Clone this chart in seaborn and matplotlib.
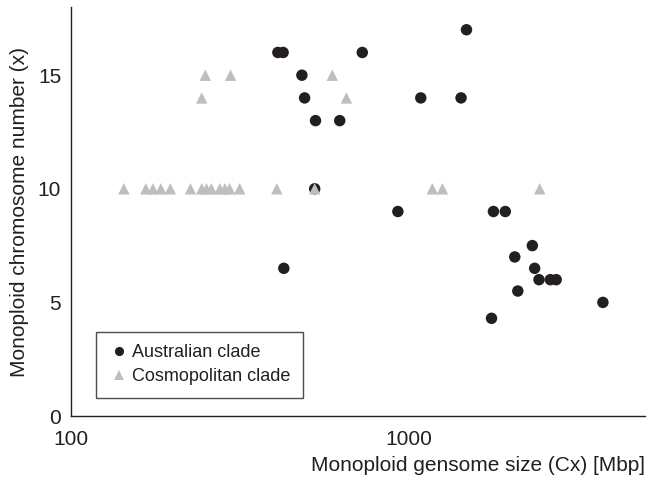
import matplotlib
matplotlib.use("Agg")
import matplotlib.pyplot as plt
import seaborn as sns
import pandas as pd
from matplotlib.ticker import FixedLocator, FixedFormatter, NullLocator

# Australian clade
aus_size = [410, 425, 729, 1483, 483, 492, 1086, 1429, 530, 625, 527,
            929, 1782, 1932, 427, 2323, 2061, 2360, 2431, 2626, 2733,
            2104, 3758, 1759]
aus_chrom = [16, 16, 16, 17, 15, 14, 14, 14, 13, 13, 10,
             9, 9, 9, 6.5, 7.5, 7, 6.5, 6, 6, 6,
             5.5, 5, 4.3]

# Cosmopolitan clade
cos_size = [143.5, 166.7, 175, 184.6, 197, 226, 244, 252, 260.6, 276,
            285.8, 295, 316, 407, 527, 1175, 1259, 2443,
            250, 297, 594, 244, 654]
cos_chrom = [10, 10, 10, 10, 10, 10, 10, 10, 10, 10,
             10, 10, 10, 10, 10, 10, 10, 10,
             15, 15, 15, 14, 14]

clades = ["Australian clade", "Cosmopolitan clade"]
x_ticks = [100, 1000]
x_ticklabels = ["100", "1000"]
y_ticks = [0, 5, 10, 15]

df = pd.DataFrame({
    "size": aus_size + cos_size,
    "chrom": aus_chrom + cos_chrom,
    "clade": [clades[0]] * len(aus_size) + [clades[1]] * len(cos_size),
})

sns.set_style("white")
plt.rcParams["font.family"] = ["Liberation Sans", "DejaVu Sans"]

fig = plt.figure(figsize=(6.5, 4.78), dpi=100)
ax = fig.add_axes([0.109, 0.1297, 0.883, 0.8556])

sns.scatterplot(data=df, x="size", y="chrom", hue="clade", style="clade",
                hue_order=clades, style_order=clades,
                palette={clades[0]: "#231f20", clades[1]: "#bcbec0"},
                markers={clades[0]: "o", clades[1]: "^"},
                s=68, linewidth=0, ax=ax, zorder=3)

ax.set_xscale("log")
ax.set_xlim(100, 5000)
ax.set_ylim(0, 18)
ax.xaxis.set_major_locator(FixedLocator(x_ticks))
ax.xaxis.set_major_formatter(FixedFormatter(x_ticklabels))
ax.xaxis.set_minor_locator(NullLocator())
ax.set_yticks(y_ticks)

for s in ["top", "right"]:
    ax.spines[s].set_visible(False)
for s in ["left", "bottom"]:
    ax.spines[s].set_color("#231f20")
    ax.spines[s].set_linewidth(1.0)

ax.tick_params(axis="both", direction="in", length=4, width=0.8,
               color="#231f20", labelsize=15, labelcolor="#231f20")
ax.tick_params(axis="x", pad=10)
ax.tick_params(axis="y", pad=7)

ax.set_xlabel("Monoploid gensome size (Cx) [Mbp]", fontsize=15,
              color="#231f20", loc="right", labelpad=5)
ax.set_ylabel("Monoploid chromosome number (x)", fontsize=15,
              color="#231f20", labelpad=6)

leg = ax.legend(loc="lower left", bbox_to_anchor=(0.044, 0.044),
                frameon=True, fancybox=False, fontsize=13,
                handletextpad=0.2, borderpad=0.7, labelspacing=0.4,
                handlelength=1.1, markerscale=0.8, borderaxespad=0)
leg.get_frame().set_edgecolor("#231f20")
leg.get_frame().set_linewidth(1.0)
for t in leg.get_texts():
    t.set_color("#231f20")

fig.savefig("out.png", dpi=100)
